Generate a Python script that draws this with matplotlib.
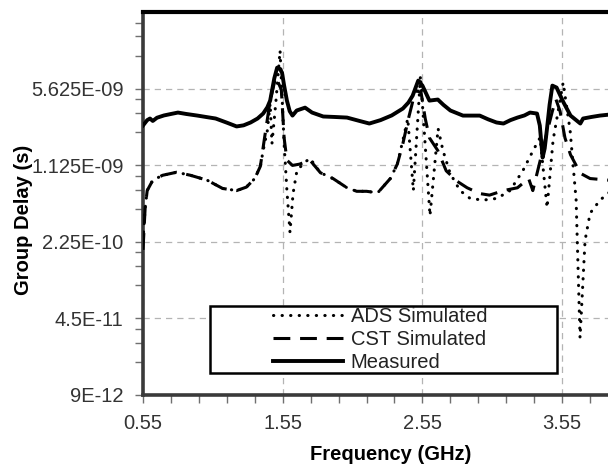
import numpy as np
import matplotlib
matplotlib.use('Agg')
import matplotlib.pyplot as plt
from matplotlib.ticker import FixedLocator, NullFormatter
from matplotlib.patches import Rectangle

plt.rcParams['font.family'] = ['Liberation Sans', 'DejaVu Sans']

# group delay, in ns (converted to seconds below)
meas_f = [0.55, 0.58, 0.60, 0.62, 0.65, 0.70, 0.75, 0.80, 0.86, 0.94, 1.00, 1.07, 1.15, 1.22,
          1.27, 1.32, 1.37, 1.41, 1.44, 1.46, 1.49, 1.51, 1.53, 1.545, 1.56, 1.58, 1.60, 1.62,
          1.65, 1.71, 1.76, 1.84, 1.92, 2.01, 2.10, 2.17, 2.25, 2.33, 2.41, 2.45, 2.48, 2.52,
          2.55, 2.60, 2.66, 2.70, 2.75, 2.84, 2.96, 3.02, 3.08, 3.13, 3.18, 3.23, 3.28, 3.32,
          3.37, 3.39, 3.41, 3.425, 3.44, 3.46, 3.48, 3.51, 3.56, 3.61, 3.68, 3.70, 3.76, 3.82, 3.89]
meas_ns = [2.59, 2.9, 3.0, 2.85, 3.05, 3.2, 3.3, 3.4, 3.3, 3.19, 3.1, 3.0, 2.75, 2.54,
           2.6, 2.76, 3.0, 3.33, 3.8, 4.37, 7.0, 8.73, 8.5, 7.87, 6.0, 4.37, 3.5, 3.19,
           3.55, 3.77, 3.4, 3.13, 3.1, 3.06, 2.85, 2.7, 2.9, 3.2, 3.7, 4.2, 4.85, 6.66,
           5.99, 4.37, 4.47, 4.0, 3.55, 3.19, 3.19, 2.95, 2.76, 2.7, 2.9, 3.06, 3.2, 3.4,
           3.33, 2.59, 1.32, 1.6, 2.33, 4.0, 5.99, 5.75, 4.2, 3.19, 2.7, 3.0, 3.1, 3.19, 3.26]

cst_f = [0.55, 0.565, 0.58, 0.62, 0.69, 0.79, 0.89, 1.01, 1.12, 1.22, 1.29, 1.35, 1.39, 1.42,
         1.46, 1.50, 1.54, 1.56, 1.58, 1.62, 1.67, 1.745, 1.82, 1.91, 2.01, 2.08, 2.15, 2.23,
         2.32, 2.37, 2.41, 2.45, 2.50, 2.54, 2.57, 2.60, 2.66, 2.72, 2.80, 2.87, 2.96, 3.03,
         3.13, 3.23, 3.31, 3.34, 3.39, 3.44, 3.48, 3.505, 3.535, 3.57, 3.61, 3.68, 3.75, 3.89]
cst_ns = [0.19, 0.45, 0.66, 0.82, 0.91, 0.97, 0.91, 0.82, 0.69, 0.66, 0.71, 0.85, 1.1, 2.0,
          4.37, 7.2, 5.5, 2.0, 1.25, 1.12, 1.15, 1.25, 0.96, 0.85, 0.70, 0.65, 0.65, 0.63,
          0.85, 1.15, 1.77, 3.0, 5.39, 5.2, 3.0, 2.0, 1.53, 1.0, 0.80, 0.70, 0.62, 0.60,
          0.66, 0.70, 0.85, 0.66, 1.2, 2.2, 3.5, 4.5, 3.5, 2.0, 1.4, 0.95, 0.85, 0.82]

ads_f = [0.55, 0.565, 0.58, 0.62, 0.69, 0.79, 0.89, 1.01, 1.12, 1.22, 1.29, 1.35, 1.39, 1.41,
         1.44, 1.46, 1.473, 1.50, 1.531, 1.56, 1.58, 1.602, 1.624, 1.652, 1.71, 1.745, 1.82,
         1.91, 2.01, 2.08, 2.15, 2.23, 2.32, 2.37, 2.41, 2.445, 2.485, 2.536, 2.604, 2.662,
         2.697, 2.748, 2.819, 2.891, 2.984, 3.084, 3.177, 3.27, 3.342, 3.392, 3.442, 3.485,
         3.557, 3.607, 3.65, 3.678, 3.714, 3.75, 3.821, 3.89]
ads_ns = [0.23, 0.45, 0.66, 0.82, 0.91, 0.97, 0.91, 0.82, 0.69, 0.66, 0.71, 0.85, 1.1, 1.53,
          2.33, 4.11, 1.77, 4.11, 12.5, 1.77, 0.66, 0.275, 0.62, 1.01, 1.2, 1.3, 0.96,
          0.85, 0.70, 0.65, 0.65, 0.63, 0.85, 1.15, 1.9, 3.0, 0.66, 7.38, 0.39, 2.43,
          1.53, 0.95, 0.66, 0.56, 0.54, 0.56, 0.66, 1.01, 1.53, 2.01, 0.46, 1.9,
          6.38, 2.33, 0.54, 0.030, 0.232, 0.41, 0.54, 0.64]

y_ticks = [9e-12, 4.5e-11, 2.25e-10, 1.125e-09, 5.625e-09]
y_tick_labels = ['9E-12', '4.5E-11', '2.25E-10', '1.125E-09', '5.625E-09']
x_ticks = [0.55, 1.55, 2.55, 3.55]
x_tick_labels = ['0.55', '1.55', '2.55', '3.55']

fig = plt.figure(figsize=(6.08, 4.66), dpi=100)
ax = fig.add_axes([143 / 608, 1 - 395 / 466, 496 / 608, 383 / 466])

ax.plot(ads_f, np.array(ads_ns) * 1e-9, color='black', lw=2.2, linestyle=(0, (0.1, 2.7)),
        dash_capstyle='round', label='ADS Simulated', zorder=3)
ax.plot(cst_f, np.array(cst_ns) * 1e-9, color='black', lw=2.2, linestyle=(0, (5.5, 3.2)),
        label='CST Simulated', zorder=3)
ax.plot(meas_f, np.array(meas_ns) * 1e-9, color='black', lw=2.8, label='Measured', zorder=3)

ax.set_yscale('log')
ax.set_ylim(9e-12, 2.8125e-08)
ax.set_xlim(0.55, 4.10)

# Excel style log axis, base 5 with minor ticks at 2x, 3x, 4x
minor_y = [t * k for t in y_ticks for k in (2, 3, 4)]
ax.yaxis.set_major_locator(FixedLocator(y_ticks))
ax.yaxis.set_minor_locator(FixedLocator(minor_y))
ax.set_yticklabels(y_tick_labels)
ax.yaxis.set_minor_formatter(NullFormatter())
ax.xaxis.set_major_locator(FixedLocator(x_ticks))
ax.xaxis.set_minor_locator(FixedLocator(np.arange(0.55, 4.1, 0.2)))
ax.set_xticklabels(x_tick_labels)

ax.tick_params(which='both', direction='out', length=6, width=1, color='#707070')
ax.tick_params(axis='both', labelsize=14.5, labelcolor='#333333')
ax.tick_params(axis='y', pad=8)
ax.tick_params(axis='x', pad=8)

ax.grid(True, which='major', color='#b4b4b4', lw=0.9, linestyle=(0, (5, 4)))

for side in ['left', 'bottom']:
    ax.spines[side].set_linewidth(2.6)
    ax.spines[side].set_color('#3a3a3a')
ax.spines['top'].set_linewidth(3)
ax.spines['top'].set_color('black')
ax.spines['right'].set_visible(False)

ax.set_xlabel('Frequency (GHz)', fontsize=14.5, fontweight='bold')
ax.set_ylabel('Group Delay (s)', fontsize=14.5, fontweight='bold')
ax.xaxis.set_label_coords(0.5, -0.131)
ax.yaxis.set_label_coords(-0.222, 0.458)

# legend frame drawn separately so the handles can sit to the right like in Excel
ax.add_patch(Rectangle(((210 - 143) / 496, (395 - 373) / 383), 347 / 496, 67 / 383,
                       transform=ax.transAxes, facecolor='white', edgecolor='black',
                       lw=1.8, zorder=4))
leg = ax.legend(loc='center left', bbox_to_anchor=((273 - 143) / 496, (395 - 339.5) / 383),
                frameon=False, fontsize=14.5, handlelength=3.5, handletextpad=0.35,
                labelspacing=0.2, borderpad=0, borderaxespad=0)
leg.set_zorder(5)
for t in leg.get_texts():
    t.set_color('#222222')

fig.savefig('out.png', dpi=100)
